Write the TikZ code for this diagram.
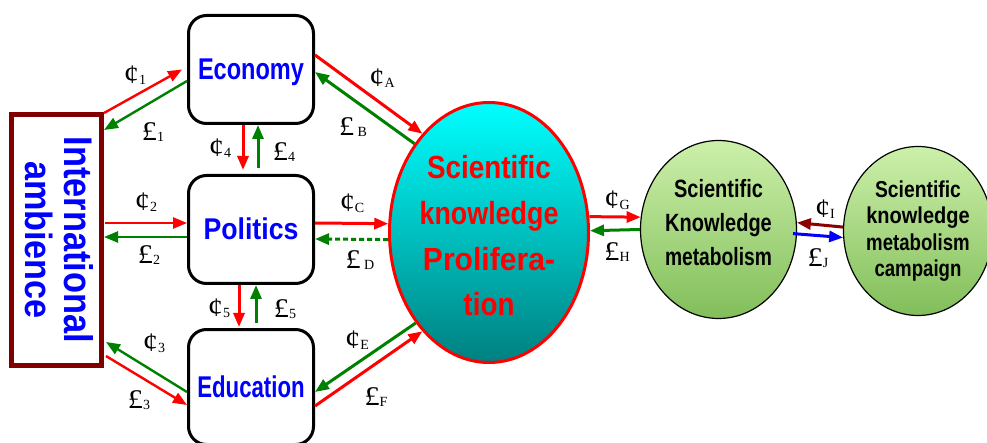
\documentclass[tikz,border=0pt]{standalone}
\usepackage{fontspec}
\usepackage{graphicx}
\setmainfont{Liberation Serif}
\newfontfamily\hv{Liberation Sans}
\usetikzlibrary{arrows.meta,shapes.geometric}
\definecolor{cRed}{RGB}{255,0,0}
\definecolor{cGreen}{RGB}{0,128,0}
\definecolor{cBlue}{RGB}{0,0,255}
\definecolor{cMaroon}{RGB}{128,0,0}
\definecolor{cDark}{RGB}{139,0,0}
\definecolor{cCyanTop}{RGB}{0,255,255}
\definecolor{cCyanBot}{RGB}{0,128,128}
\definecolor{cLimeTop}{RGB}{204,240,170}
\definecolor{cLimeBot}{RGB}{130,190,90}
\newcommand\lbl[2]{\scalebox{1.12}[1]{#1}\raisebox{-1.5pt}{\fontsize{14}{14}\selectfont #2}}
\newcommand\sx[2]{\scalebox{#1}[1]{#2}}
\begin{document}
\begin{tikzpicture}[x=1pt,y=-1pt,
 blk/.style={draw=black,line width=3pt,rounded corners=18pt,minimum width=125pt,minimum height=108pt,inner sep=0pt,text=cBlue,font={\hv\bfseries\fontsize{30}{36}\selectfont}},
 iabox/.style={draw=cMaroon,line width=5pt,rotate=-90,minimum width=250pt,minimum height=90pt,inner sep=0pt,align=center,text=cBlue,font={\hv\bfseries\fontsize{40}{38.6}\selectfont}},
 bigell/.style={ellipse,draw=cRed,line width=3pt,top color=cCyanTop,bottom color=cCyanBot,minimum width=199pt,minimum height=260pt,inner sep=0pt,align=center,text=cRed,font={\hv\bfseries\fontsize{32}{45.7}\selectfont}},
 grell/.style={ellipse,draw=black,line width=1.2pt,top color=cLimeTop,bottom color=cLimeBot,inner sep=0pt,align=center,text=black},
 arr/.style={-{Triangle[length=14pt,width=11pt]},line width=2.4pt},
 thk/.style={arr,line width=3pt},
 lab/.style={inner sep=0pt,font={\fontsize{27}{27}\selectfont}}
]
\path[use as bounding box] (0,0) rectangle (987,443);

% nodes
\node[blk,text height=27pt,text depth=6pt] (eco) at (251,69.5) {\sx{0.785}{Economy}};
\node[blk,text height=26pt,text depth=6.4pt] (pol) at (251,229.5) {\sx{0.89}{Politics}};
\node[blk,minimum height=115pt,text height=27pt,text depth=6.4pt] (edu) at (251,387) {\sx{0.74}{Education}};
\node[iabox] (ia) at (56.5,240) {\sx{0.86}{International}\\\scalebox{0.856}[0.95]{ambience}\rule[-6.2pt]{0pt}{6.2pt}};
\node[bigell] (skp) at (489,232.5) {\rule{0pt}{30pt}\sx{0.87}{Scientific}\\\sx{0.84}{knowledge}\\\sx{0.94}{Prolifera-}\\\sx{0.87}{tion}};
\node[grell,minimum width=156pt,minimum height=178pt,font={\hv\bfseries\fontsize{25}{34}\selectfont}] (skm) at (718.5,229.5) {\sx{0.8}{Scientific}\\\sx{0.8}{Knowledge}\\\sx{0.77}{metabolism}\rule[-14.2pt]{0pt}{14.2pt}};
\node[grell,minimum width=149pt,minimum height=169pt,font={\hv\bfseries\fontsize{23}{26.3}\selectfont}] (skmc) at (918,231) {\sx{0.84}{Scientific}\\\sx{0.87}{knowledge}\\\sx{0.81}{metabolism}\\\sx{0.81}{campaign}};

% left connectors
\draw[arr,cRed] ([xshift=47.5pt,yshift=127pt]ia.center) -- ([xshift=-5pt]eco.west);
\draw[arr,cGreen] ([yshift=-11.5pt]eco.west) -- ([xshift=47.5pt,yshift=110pt]ia.center);
\draw[arr,cRed] ([xshift=48.5pt,yshift=17pt]ia.center) -- ([yshift=6.5pt]pol.west);
\draw[arr,cGreen] ([yshift=-7.5pt]pol.west) -- ([xshift=47.5pt,yshift=3pt]ia.center);
\draw[arr,cGreen] ([yshift=-5pt]edu.west) -- ([xshift=49.5pt,yshift=-102pt]ia.center);
\draw[arr,cRed] ([xshift=49.5pt,yshift=-116pt]ia.center) -- ([yshift=-18pt]edu.west);

% vertical connectors
\draw[thk,cRed] ([xshift=-8pt]eco.south) -- ([xshift=-8pt,yshift=4pt]pol.north);
\draw[thk,cGreen] ([xshift=7pt,yshift=6pt]pol.north) -- ([xshift=7pt]eco.south);
\draw[thk,cRed] ([xshift=-12pt]pol.south) -- ([xshift=-12pt,yshift=1pt]edu.north);
\draw[thk,cGreen] ([xshift=5pt,yshift=5pt]edu.north) -- ([xshift=5pt]pol.south);

% middle connectors
\draw[thk,cRed] ([yshift=14.5pt]eco.east) -- (skp.124);
\draw[thk,cGreen] (skp.130) -- ([yshift=-2.5pt]eco.east);
\draw[thk,cRed] ([yshift=6.5pt]pol.east) -- (skp.175);
\draw[thk,cGreen,dash pattern=on 5pt off 3pt] (skp.184) -- ([yshift=-9.5pt]pol.east);
\draw[thk,cGreen] (skp.231) -- ([yshift=-5pt]edu.east);
\draw[thk,cRed] ([yshift=-19pt]edu.east) -- (skp.236);

% right connectors
\draw[thk,cRed] (skp.9) -- (skm.171);
\draw[thk,cGreen] (skm.180) -- (skp.1);
\draw[thk,cDark] (skmc.177) -- (skm.5);
\draw[thk,cBlue] ([xshift=-4pt]skm.357) -- (skmc.185);

% labels
\node[lab] (l1) at (135,75) {\lbl{¢}{1}};
\node[lab] (l2) at (153,132) {\lbl{£}{1}};
\node[lab] (l3) at (146,202) {\lbl{¢}{2}};
\node[lab] (l4) at (149,255) {\lbl{£}{2}};
\node[lab] (l5) at (154,343) {\lbl{¢}{3}};
\node[lab] (l6) at (139,400) {\lbl{£}{3}};
\node[lab] (l7) at (220,148) {\lbl{¢}{4}};
\node[lab] (l8) at (284,152) {\lbl{£}{4}};
\node[lab] (l9) at (219,308) {\lbl{¢}{5}};
\node[lab] (l10) at (285,309) {\lbl{£}{5}};
\node[lab] (lA) at (382,78) {\lbl{¢}{A}};
\node[lab] (lB) at (353,127) {\lbl{£\hspace{3pt}}{B}};
\node[lab] (lC) at (352,203) {\lbl{¢}{C}};
\node[lab] (lD) at (360,260) {\lbl{£\hspace{3pt}}{D}};
\node[lab] (lE) at (357,340) {\lbl{¢}{E}};
\node[lab] (lF) at (376,397) {\lbl{£}{F}};
\node[lab] (lG) at (617,200) {\lbl{¢}{G}};
\node[lab] (lH) at (617,252) {\lbl{£}{H}};
\node[lab] (lI) at (825,209) {\lbl{¢}{I}};
\node[lab] (lJ) at (818,258) {\lbl{£}{J}};
\end{tikzpicture}
\end{document}
